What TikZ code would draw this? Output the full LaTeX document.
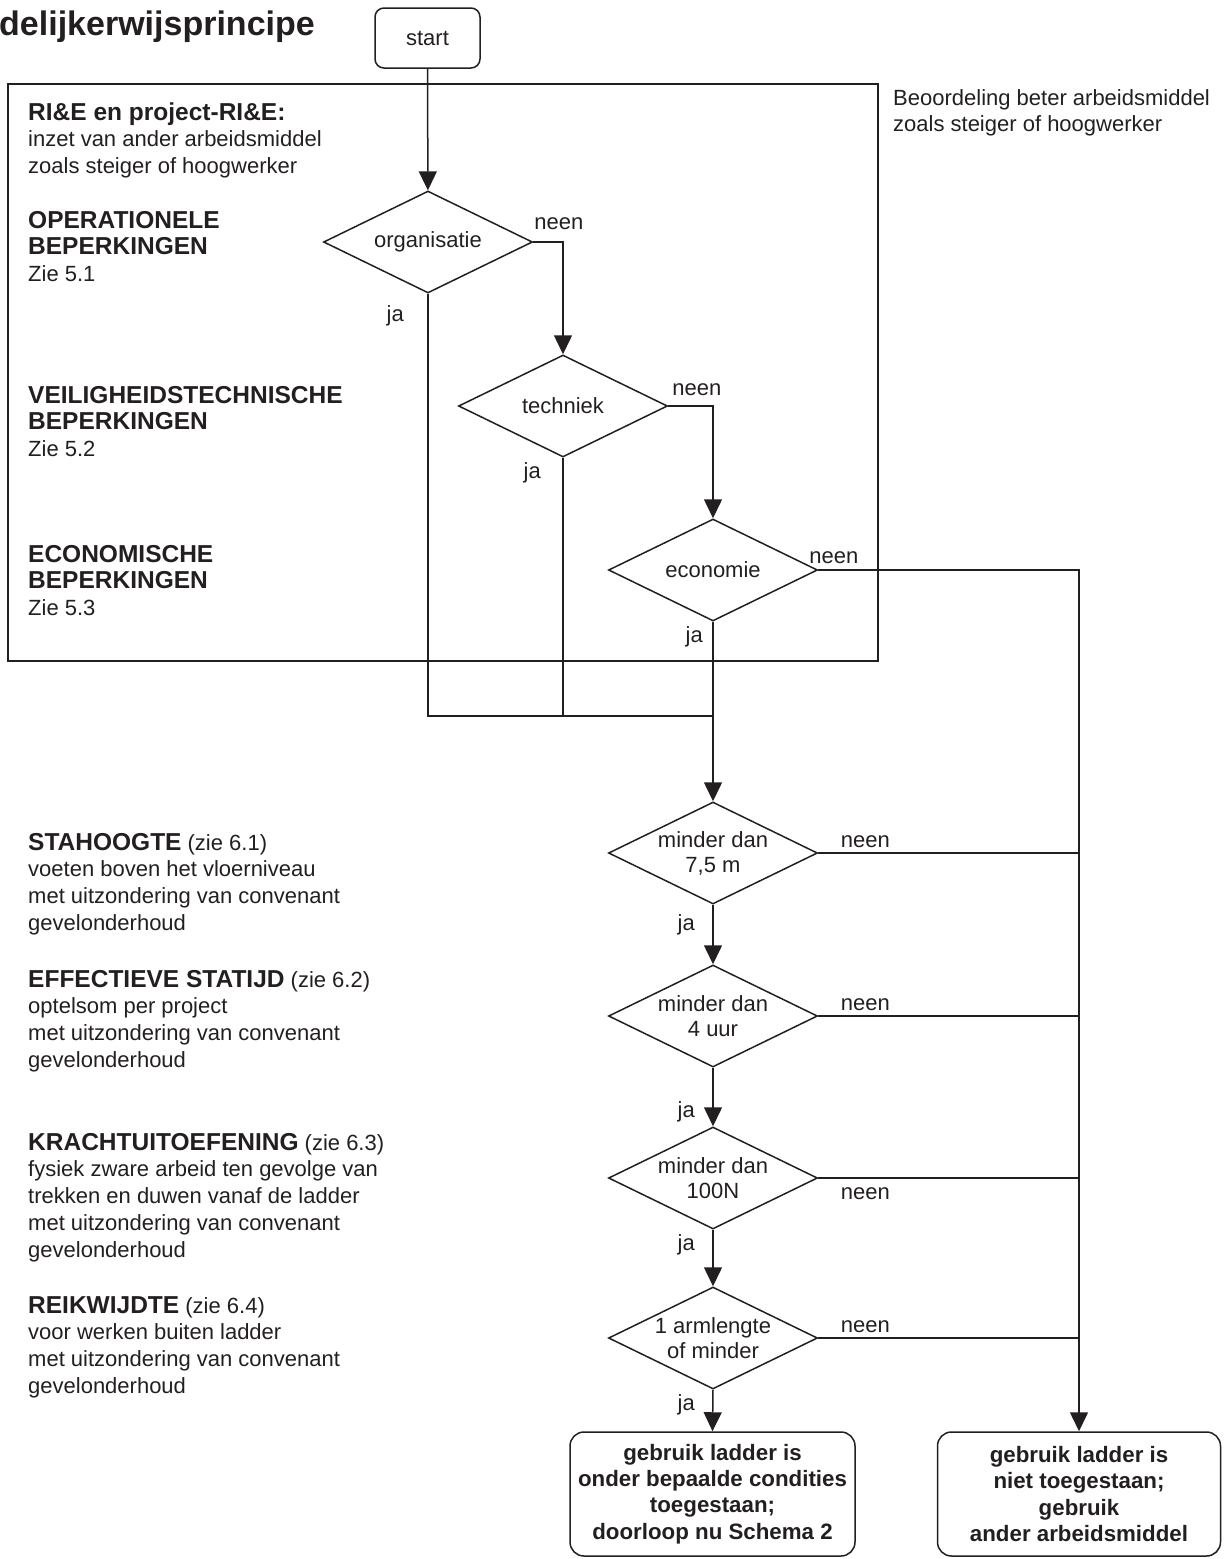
\documentclass[tikz,border=0pt]{standalone}
\usepackage{fontspec}
\setmainfont{Liberation Sans}
\usetikzlibrary{shapes.geometric,arrows.meta,positioning}

\definecolor{ink}{RGB}{35,31,32}
\newcommand{\bodyfont}{\fontsize{22}{26.8}\selectfont}
\newcommand{\headfont}{\fontsize{24.5}{26.8}\selectfont\bfseries}
\newcommand{\testfont}{\fontsize{22}{25}\selectfont}
\newcommand{\outfont}{\fontsize{22.3}{26.4}\selectfont\bfseries}

\begin{document}
\begin{tikzpicture}[
    x=1pt, y=-1pt,
    every node/.style={text=ink, font=\bodyfont},
    line/.style={draw=ink, line width=1.5pt},
    arrow/.style={line, -{Triangle[width=18pt,length=19pt]}},
    test/.style={diamond, draw=ink, line width=1.5pt, shape aspect=2, inner sep=0pt, minimum width=209pt, minimum height=102pt, align=center, font=\testfont},
    startbox/.style={rectangle, draw=ink, line width=1.5pt, rounded corners=9pt, minimum width=105pt, minimum height=60pt},
    outbox/.style={rectangle, draw=ink, line width=1.5pt, rounded corners=14pt, inner sep=3pt, minimum height=124pt, align=center, font=\outfont},
    side/.style={anchor=north west, align=left, inner sep=0pt},
    answer/.style={inner sep=0pt}
]
\useasboundingbox (0,0) rectangle (1225,1559);

\node[anchor=base west, inner sep=0pt, font=\fontsize{34}{40}\selectfont\bfseries] (title) at (-1,35) {delijkerwijsprincipe};
\node[startbox] (start) at (427.5,38) {start};

% RI&E kader
\draw[line] (8,84) rectangle (878,661);
\node[side] (rie) at (28,101.2) {\strut{\headfont RI\&E en project-RI\&E:}\\inzet van ander arbeidsmiddel\\zoals steiger of hoogwerker};
\node[side] (oper) at (28,209.2) {\strut{\headfont OPERATIONELE}\\{\headfont BEPERKINGEN}\\Zie 5.1};
\node[side] (veil) at (28,384.2) {\strut{\headfont VEILIGHEIDSTECHNISCHE}\\{\headfont BEPERKINGEN}\\Zie 5.2};
\node[side] (econ) at (28,543.2) {\strut{\headfont ECONOMISCHE}\\{\headfont BEPERKINGEN}\\Zie 5.3};
\node[side] (note) at (893,86.2) {\strut Beoordeling beter arbeidsmiddel\\zoals steiger of hoogwerker};

% criteria
\node[side] (stah) at (28,831.2) {\strut{\headfont STAHOOGTE} (zie 6.1)\\voeten boven het vloerniveau\\met uitzondering van convenant\\gevelonderhoud};
\node[side] (effe) at (28,968.2) {\strut{\headfont EFFECTIEVE STATIJD} (zie 6.2)\\optelsom per project\\met uitzondering van convenant\\gevelonderhoud};
\node[side] (krac) at (28,1131.2) {\strut{\headfont KRACHTUITOEFENING} (zie 6.3)\\fysiek zware arbeid ten gevolge van\\trekken en duwen vanaf de ladder\\met uitzondering van convenant\\gevelonderhoud};
\node[side] (reik) at (28,1294.2) {\strut{\headfont REIKWIJDTE} (zie 6.4)\\voor werken buiten ladder\\met uitzondering van convenant\\gevelonderhoud};

% beslissingen
\node[test] (org) at (428,242) {organisatie};
\node[test] (tech) at (563,406) {techniek};
\node[test] (eco) at (713,570) {economie};
\node[test] (d1) at (713,853) {minder dan\\7,5 m};
\node[test] (d2) at (713,1016) {minder dan\\4 uur};
\node[test] (d3) at (713,1178) {minder dan\\100N};
\node[test] (d4) at (713,1338) {1 armlengte\\of minder};

\node[outbox, minimum width=285pt] (yes) at (712.5,1494) {gebruik ladder is\\onder bepaalde condities\\toegestaan;\\doorloop nu Schema 2};
\node[outbox, minimum width=283pt] (no) at (1079,1494) {gebruik ladder is\\niet toegestaan;\\gebruik\\ander arbeidsmiddel};

\coordinate (merge) at (713,716);

\draw[arrow] (start) -- (org);
\draw[arrow] (org.east) -| (tech.north);
\draw[arrow] (tech.east) -| (eco.north);
\draw[line] (org.south) |- (merge);
\draw[line] (tech.south) |- (merge);
\draw[arrow] (eco.south) -- (d1.north);
\draw[arrow] (d1.south) -- (d2.north);
\draw[arrow] (d2.south) -- (d3.north);
\draw[arrow] (d3.south) -- (d4.north);
\draw[arrow] (d4.south) -- (yes.north);
\draw[arrow] (eco.east) -| (no.north);
\draw[line] (d1.east) -- (d1.east -| no.north);
\draw[line] (d2.east) -- (d2.east -| no.north);
\draw[line] (d3.east) -- (d3.east -| no.north);
\draw[line] (d4.east) -- (d4.east -| no.north);

% ja / neen
\node[answer, anchor=base west] (orgno) at ([xshift=1pt,yshift=13pt]org.east) {neen};
\node[answer, anchor=base west] (techno) at ([xshift=4pt,yshift=11pt]tech.east) {neen};
\node[answer, anchor=base west] (econo) at ([xshift=-9pt,yshift=7pt]eco.east) {neen};
\node[answer, anchor=base west] (d1no) at ([xshift=22.5pt,yshift=5.5pt]d1.east) {neen};
\node[answer, anchor=base west] (d2no) at ([xshift=22.5pt,yshift=5.5pt]d2.east) {neen};
\node[answer, anchor=base west] (d3no) at ([xshift=22.5pt,yshift=-21pt]d3.east) {neen};
\node[answer, anchor=base west] (d4no) at ([xshift=22.5pt,yshift=6pt]d4.east) {neen};
\node[answer, anchor=base east] (orgyes) at ([xshift=-24pt,yshift=-28pt]org.south) {ja};
\node[answer, anchor=base east] (techyes) at ([xshift=-22pt,yshift=-21pt]tech.south) {ja};
\node[answer, anchor=base east] (ecoyes) at ([xshift=-10pt,yshift=-21pt]eco.south) {ja};
\node[answer, anchor=base east] (d1yes) at ([xshift=-18pt,yshift=-26pt]d1.south) {ja};
\node[answer, anchor=base east] (d2yes) at ([xshift=-18pt,yshift=9pt]d3.north) {ja};
\node[answer, anchor=base east] (d3yes) at ([xshift=-18pt,yshift=-21pt]d3.south) {ja};
\node[answer, anchor=base east] (d4yes) at ([xshift=-18pt,yshift=-21pt]d4.south) {ja};

\end{tikzpicture}
\end{document}
